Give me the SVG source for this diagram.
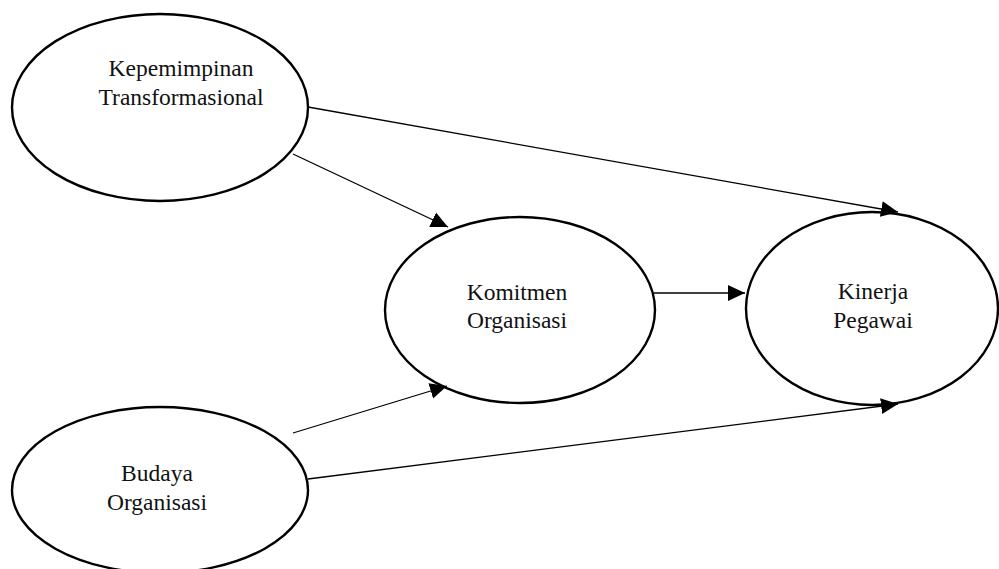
<svg xmlns="http://www.w3.org/2000/svg" width="999" height="569" viewBox="0 0 999 569">
<style>
.node{fill:#fff;stroke:#000;stroke-width:2.4}
.lbl{font-family:"Liberation Serif","Times New Roman",serif;font-size:23.5px;fill:#111;text-anchor:middle}
.edge{stroke:#000;stroke-width:1.3;fill:none;marker-end:url(#ah)}
</style>
<defs>
<marker id="ah" markerUnits="userSpaceOnUse" markerWidth="18" markerHeight="18" viewBox="0 0 18 18" refX="17" refY="9" orient="auto">
<path d="M0,1 L17,9 L0,17 Z" fill="#000"/>
</marker>
</defs>
<rect width="999" height="569" fill="#fff"/>
<g id="kepemimpinan">
<ellipse class="node" cx="160" cy="107.5" rx="148" ry="93.5"/>
<text class="lbl" x="181" y="76">Kepemimpinan</text>
<text class="lbl" x="181" y="105">Transformasional</text>
</g>
<g id="komitmen">
<ellipse class="node" cx="520" cy="310" rx="135" ry="93"/>
<text class="lbl" x="517" y="300">Komitmen</text>
<text class="lbl" x="517" y="328">Organisasi</text>
</g>
<g id="kinerja">
<ellipse class="node" cx="872" cy="308.5" rx="126" ry="96.5"/>
<text class="lbl" x="873" y="299">Kinerja</text>
<text class="lbl" x="873" y="328">Pegawai</text>
</g>
<g id="budaya">
<ellipse class="node" cx="160" cy="490" rx="148" ry="83"/>
<text class="lbl" x="157" y="481">Budaya</text>
<text class="lbl" x="157" y="510">Organisasi</text>
</g>
<g id="connectors">
<line class="edge" x1="308" y1="107" x2="898" y2="212"/>
<line class="edge" x1="293" y1="154" x2="448" y2="227"/>
<line class="edge" x1="654" y1="293" x2="745" y2="293"/>
<line class="edge" x1="293" y1="433" x2="447" y2="386"/>
<line class="edge" x1="308" y1="479" x2="898" y2="404"/>
</g>
</svg>
